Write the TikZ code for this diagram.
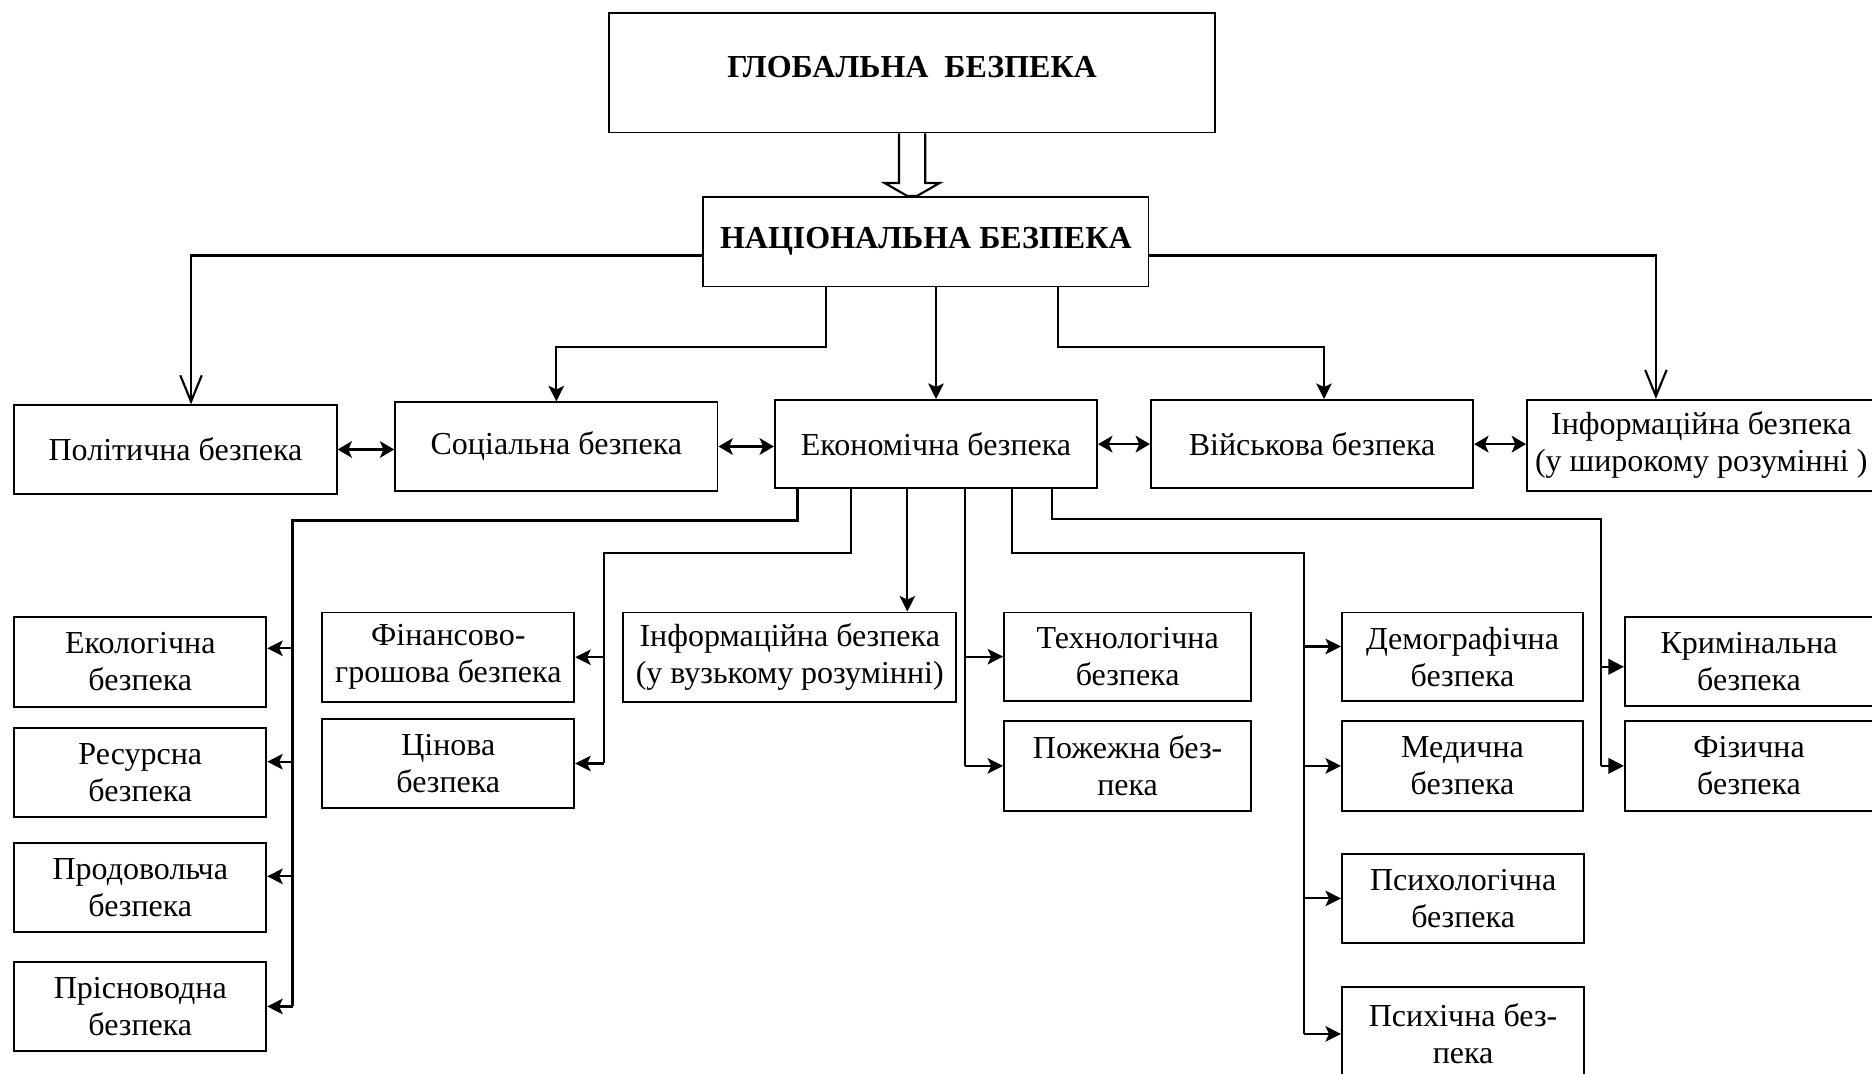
\documentclass[tikz,border=0pt]{standalone}
\usepackage{fontspec}
\setmainfont{Liberation Serif}
\usetikzlibrary{arrows.meta,calc}
\tikzset{box/.style={draw, line width=0.8pt, align=center, inner sep=1pt, font=\fontsize{13.4}{15.5}\selectfont}}
\tikzset{hbox/.style={box, font=\fontsize{13.4}{15.5}\selectfont\bfseries}}
\tikzset{lvl/.style={box, minimum width=135pt, minimum height=37pt}}
\tikzset{sbox/.style={box, minimum width=105.5pt, minimum height=37.5pt}}
\tikzset{wire/.style={line width=0.9pt}}
\tikzset{con/.style={wire, -{Stealth[length=6.5pt,width=6.5pt,inset=1.5pt]}}}
\tikzset{both/.style={wire, {Stealth[length=6pt,width=7pt,inset=1.5pt]}-{Stealth[length=6pt,width=7pt,inset=1.5pt]}}}
\tikzset{vcon/.style={wire, -{Straight Barb[length=11pt,width=9pt]}}}
\tikzset{tcon/.style={wire, -{Triangle[length=6.5pt,width=6.5pt]}}}
\begin{document}
\begin{tikzpicture}[x=0.5pt,y=-0.5pt]
\useasboundingbox (0,0) rectangle (1568,899);
\clip (0,0) rectangle (1568,899);
\node (glob) at (764,61)[hbox, minimum width=254pt, minimum height=50pt, text depth=5pt]{ГЛОБАЛЬНА\ \ БЕЗПЕКА};
\node (nat) at (775.5,202.5)[hbox, minimum width=186.5pt, minimum height=37.5pt]{НАЦІОНАЛЬНА БЕЗПЕКА};

% global => national
\draw[wire] ($(glob.south)+(-11,0)$) -- ++(0,41.5) -- ++(-12,0) -- ($(glob.south |- nat.north)+(-4,0)$) -- ($(glob.south |- nat.north)+(4,0)$) -- ($(glob.south)+(23,41.5)$) -- ++(-12,0) -- ($(glob.south)+(11,0)$);

\node (pol) at (147,376.5)[lvl]{Політична безпека};
\node (soc) at (466,374)[lvl]{Соціальна безпека};
\node (econ) at (784,372)[lvl]{Економічна безпека};
\node (mil) at (1099,372)[lvl]{Військова безпека};
\node (infw) at (1425,373)[box, minimum width=146pt, minimum height=38pt]{Інформаційна безпека\\(у широкому розумінні )};

\coordinate (polturn) at (160,214);
\coordinate (socturn) at (692,291);
\coordinate (milturn) at (886,291);
\coordinate (infturn) at (1387,214);
\draw[vcon] (nat.west |- polturn) -- (polturn) -- (polturn |- pol.north);
\draw[con] (socturn |- nat.south) -- (socturn) -| (soc.north);
\draw[con] (econ.north |- nat.south) -- (econ.north);
\draw[con] (milturn |- nat.south) -- (milturn) -| ($(mil.north)+(10,0)$);
\draw[vcon] (nat.east |- infturn) -- (infturn) -- (infturn |- infw.north);

\draw[both] (pol.east) -- (pol.east -| soc.west);
\draw[both] (soc.east) -- (soc.east -| econ.west);
\draw[both] (econ.east) -- (econ.east -| mil.west);
\draw[both] (mil.east) -- (mil.east -| infw.west);

%third level
\node (ekol) at (117.5,554.5)[sbox]{Екологічна\\безпека};
\node (resur) at (117.5,647)[sbox]{Ресурсна\\безпека};
\node (prod) at (117.5,743.5)[sbox]{Продовольча\\безпека};
\node (prisn) at (117.5,843)[sbox]{Прісноводна\\безпека};
\node (fin) at (375.5,550.5)[sbox]{Фінансово-\\грошова безпека};
\node (tsin) at (375.5,639.5)[sbox]{Цінова\\безпека};
\node (infn) at (661.5,550.5)[box, minimum width=139.5pt, minimum height=37.5pt]{Інформаційна безпека\\(у вузькому розумінні)};
\node (tech) at (944.5,550)[box, minimum width=103.5pt, minimum height=37pt]{Технологічна\\безпека};
\node (pozh) at (944.5,641.5)[box, minimum width=103.5pt, minimum height=37.5pt]{Пожежна без-\\пека};
\node (demo) at (1225,550)[box, minimum width=101pt, minimum height=37pt]{Демографічна\\безпека};
\node (med) at (1225,641.5)[box, minimum width=101pt, minimum height=37.5pt]{Медична\\безпека};
\node (psyl) at (1225.5,752.5)[box, minimum width=101.5pt, minimum height=37.5pt]{Психологічна\\безпека};
\node (psyc) at (1225.5,866)[box, minimum width=101.5pt, minimum height=39pt]{Психічна без-\\пека};
\node (krim) at (1465,554)[box, minimum width=104pt, minimum height=37pt]{Кримінальна\\безпека};
\node (fiz) at (1465,641.5)[box, minimum width=104pt, minimum height=37.5pt]{Фізична\\безпека};

\coordinate (lturn) at (668,436);
\coordinate (lbus) at (245,436);
\coordinate (fturn) at (713,463);
\coordinate (fbus) at (506,463);
\coordinate (ibus) at (760,0);
\coordinate (tbus) at (808,0);
\coordinate (dturn) at (848,463);
\coordinate (dbus) at (1092,463);
\coordinate (kturn) at (881,435);
\coordinate (kbus) at (1341,435);

\draw[wire] (lturn |- econ.south) -- (lturn) -- (lbus) -- (lbus |- prisn.east);
\draw[wire] (fturn |- econ.south) -- (fturn) -- (fbus) -- (fbus |- tsin.east);
\draw[con] (ibus |- econ.south) -- (ibus |- infn.north);
\draw[wire] (tbus |- econ.south) -- (tbus |- pozh.west);
\draw[wire] (dturn |- econ.south) -- (dturn) -- (dbus) -- (dbus |- psyc.west);
\draw[wire] (kturn |- econ.south) -- (kturn) -- (kbus) -- (kbus |- fiz.west);

\draw[con] ($(lbus |- ekol.east)+(0,-11.5)$) -- ($(ekol.east)+(0,-11.5)$);
\draw[con] ($(lbus |- resur.east)+(0,-9)$) -- ($(resur.east)+(0,-9)$);
\draw[con] ($(lbus |- prod.east)+(0,-9.5)$) -- ($(prod.east)+(0,-9.5)$);
\draw[con] (lbus |- prisn.east) -- (prisn.east);
\draw[con] (fbus |- fin.east) -- (fin.east);
\draw[con] (fbus |- tsin.east) -- (tsin.east);
\draw[con] (tbus |- tech.west) -- (tech.west);
\draw[con] (tbus |- pozh.west) -- (pozh.west);
\draw[con] ($(dbus |- demo.west)+(0,-8.5)$) -- ($(demo.west)+(0,-8.5)$);
\draw[con] (dbus |- med.west) -- (med.west);
\draw[con] (dbus |- psyl.west) -- (psyl.west);
\draw[con] (dbus |- psyc.west) -- (psyc.west);
\draw[tcon] ($(kbus |- krim.west)+(0,4.5)$) -- ($(krim.west)+(0,4.5)$);
\draw[tcon] (kbus |- fiz.west) -- (fiz.west);
\end{tikzpicture}
\end{document}
